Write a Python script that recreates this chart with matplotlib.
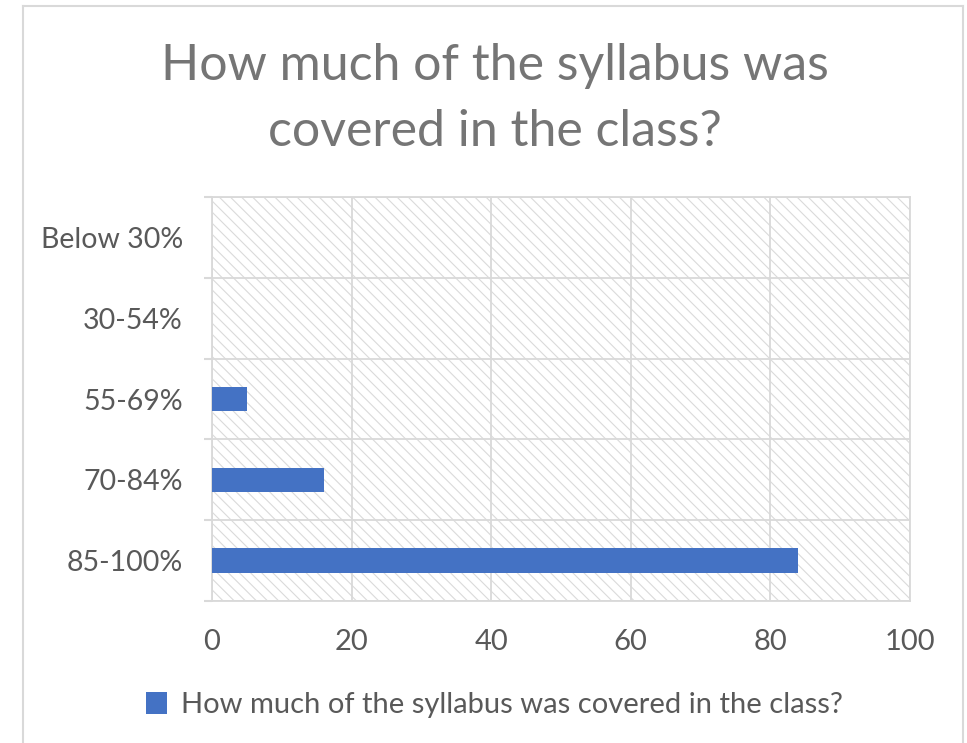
import matplotlib
matplotlib.use("Agg")
import matplotlib.pyplot as plt
from matplotlib.patches import Rectangle
from matplotlib.lines import Line2D
import numpy as np

categories = ["85-100%", "70-84%", "55-69%", "30-54%", "Below 30%"]
values = [84, 16, 5, 0, 0]
xticks = [0, 20, 40, 60, 80, 100]
title = "How much of the syllabus was\ncovered in the class?"
series_name = "How much of the syllabus was covered in the class?"

plt.rcParams['font.family'] = ['Lato', 'DejaVu Sans']
plt.rcParams['hatch.color'] = '#dadada'
plt.rcParams['hatch.linewidth'] = 0.8

W, H = 967, 743
fig = plt.figure(figsize=(W/100, H/100), dpi=100)
fig.patch.set_facecolor('white')

ax = fig.add_axes([212/W, 1-601/H, (910-212)/W, (601-197)/H])
ax.set_facecolor('white')
# hatched background
ax.add_patch(Rectangle((0, 0), 1, 1, transform=ax.transAxes, facecolor='white',
                       edgecolor='#dadada', hatch='\\\\\\', linewidth=0, zorder=0))

y = np.arange(len(categories))
ax.barh(y, values, height=0.3, color='#4472C4', zorder=3)

ax.set_xlim(0, 100)
ax.set_ylim(-0.5, len(categories)-0.5)
ax.set_xticks(xticks)
ax.set_xticklabels([str(t) for t in xticks])
ax.tick_params(axis='x', length=0, pad=20, labelsize=21, labelcolor='#595959')

ax.set_yticks(np.arange(-0.5, len(categories)), minor=False)
ax.set_yticklabels([])
ax.set_yticks(y, minor=True)
ax.set_yticklabels(categories, minor=True)
ax.tick_params(axis='y', which='major', length=6, width=1.5, color='#d9d9d9')
ax.tick_params(axis='y', which='minor', length=0, pad=21, labelsize=20.5, labelcolor='#595959')

ax.grid(True, axis='both', which='major', color='#d9d9d9', linewidth=1.3, zorder=1)
ax.set_axisbelow(True)
for s in ax.spines.values():
    s.set_color('#d9d9d9')
    s.set_linewidth(1.3)

fig.text(495/W, 1-99/H, title, ha='center', va='center', fontsize=36,
         color='#757575', linespacing=1.55)

handle = Rectangle((0, 0), 1, 1, facecolor='#4472C4')
fig.legend([handle], [series_name], loc='center', bbox_to_anchor=(494/W, 1-705/H),
           frameon=False, fontsize=21, labelcolor='#595959', handlelength=0.75,
           handleheight=0.75, handletextpad=0.45)

# outer chart border
bc = '#d9d9d9'
fig.add_artist(Line2D([23/W, 23/W], [0, 1-6/H], transform=fig.transFigure, color=bc, lw=1.5))
fig.add_artist(Line2D([23/W, 963/W], [1-6/H, 1-6/H], transform=fig.transFigure, color=bc, lw=1.5))
fig.add_artist(Line2D([963/W, 963/W], [0, 1-6/H], transform=fig.transFigure, color=bc, lw=1.5))

fig.savefig("out.png", dpi=100)
